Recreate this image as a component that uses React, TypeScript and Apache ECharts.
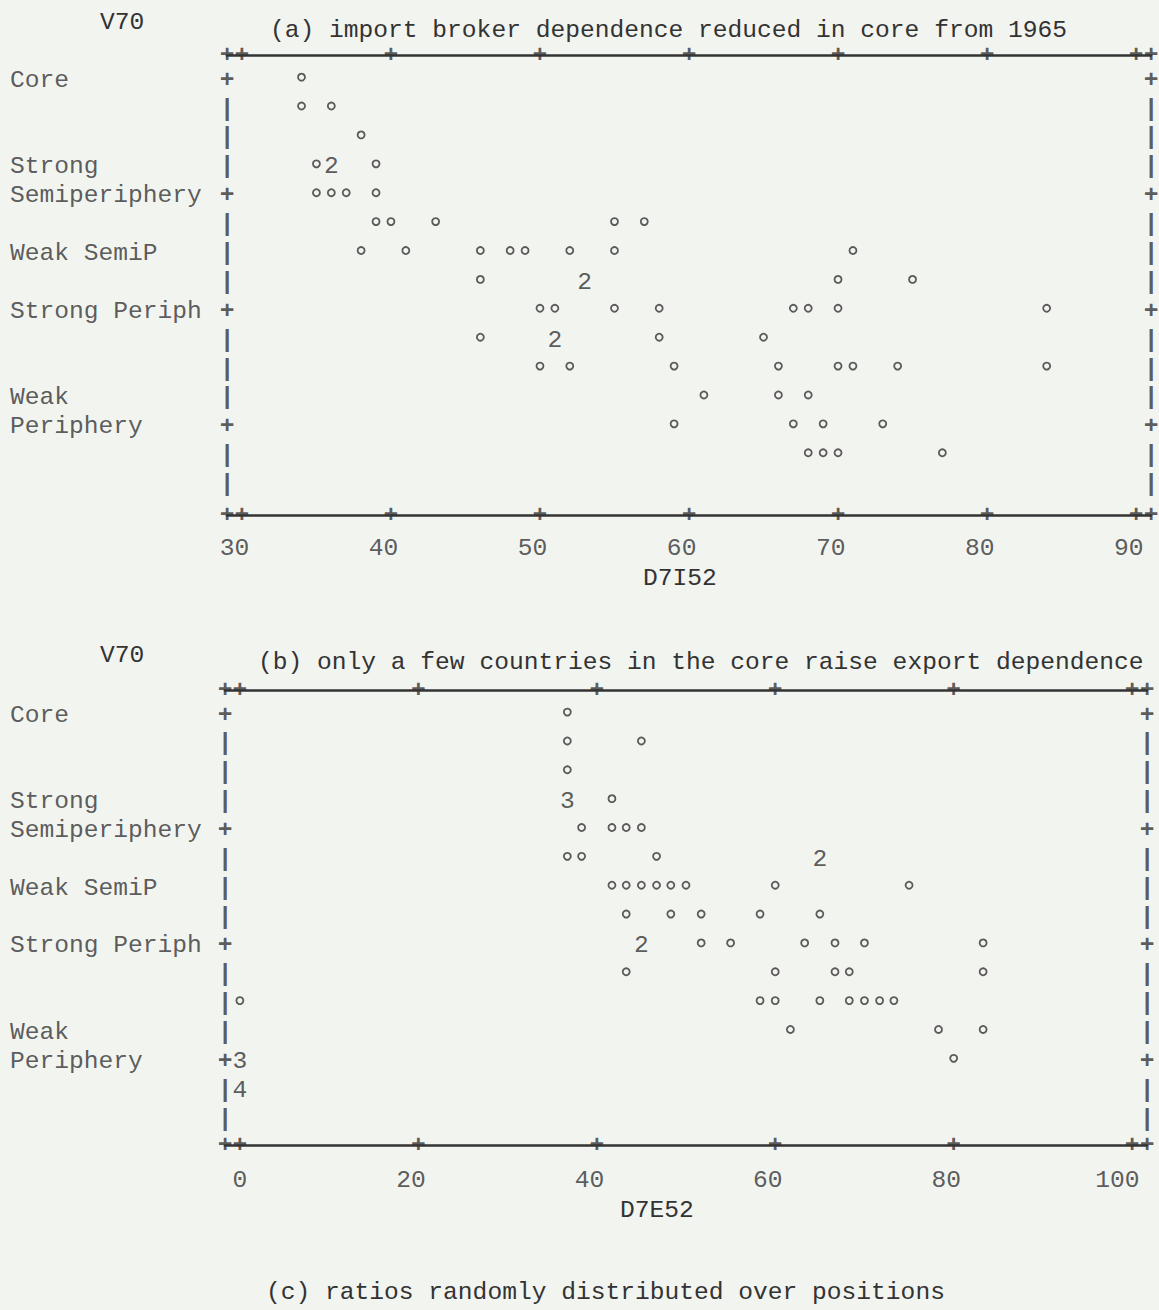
import React, { useEffect, useRef } from "react";
import * as echarts from "echarts";

const FONT = "'Liberation Mono', 'DejaVu Sans Mono', monospace";
const FS = 24.6;
const INK = "#333333";
const PAPER = "#f2f4f0";

// ---------- shared row structure (printer rows of V70) ----------
const frameRows = [0, 1, 2, 3, 4, 5, 6, 7, 8, 9, 10, 11, 12, 13, 14];
const tickRows = [0, 4, 8, 12];
const rowLabels: [number, string][] = [
  [0, "Core"],
  [3, "Strong"],
  [4, "Semiperiphery"],
  [6, "Weak SemiP"],
  [8, "Strong Periph"],
  [11, "Weak"],
  [12, "Periphery"],
];

// ---------- panel (a) ----------
const aTitle = "(a) import broker dependence reduced in core from 1965";
const aYName = "V70";
const aXName = "D7I52";
const aXTicks = [30, 40, 50, 60, 70, 80, 90];
const aXRange = [29, 91];
const aRowRange = [-0.87, 15.05];
// [D7I52, V70 row, number of cases]
const aPoints: [number, number, number][] = [
  [34, 0, 1],
  [34, 1, 1], [36, 1, 1],
  [38, 2, 1],
  [35, 3, 1], [36, 3, 2], [39, 3, 1],
  [35, 4, 1], [36, 4, 1], [37, 4, 1], [39, 4, 1],
  [39, 5, 1], [40, 5, 1], [43, 5, 1], [55, 5, 1], [57, 5, 1],
  [38, 6, 1], [41, 6, 1], [46, 6, 1], [48, 6, 1], [49, 6, 1], [52, 6, 1], [55, 6, 1], [71, 6, 1],
  [46, 7, 1], [53, 7, 2], [70, 7, 1], [75, 7, 1],
  [50, 8, 1], [51, 8, 1], [55, 8, 1], [58, 8, 1], [67, 8, 1], [68, 8, 1], [70, 8, 1], [84, 8, 1],
  [46, 9, 1], [51, 9, 2], [58, 9, 1], [65, 9, 1],
  [50, 10, 1], [52, 10, 1], [59, 10, 1], [66, 10, 1], [70, 10, 1], [71, 10, 1], [74, 10, 1], [84, 10, 1],
  [61, 11, 1], [66, 11, 1], [68, 11, 1],
  [59, 12, 1], [67, 12, 1], [69, 12, 1], [73, 12, 1],
  [68, 13, 1], [69, 13, 1], [70, 13, 1], [77, 13, 1],
];

// ---------- panel (b) ----------
const bTitle = "(b) only a few countries in the core raise export dependence";
const bYName = "V70";
const bXName = "D7E52";
const bXTicks = [0, 20, 40, 60, 80, 100];
const bXRange = [-1.667, 101.667];
const bRowRange = [-0.87, 14.9];
// [D7E52, V70 row, number of cases]
const bPoints: [number, number, number][] = [
  [36.7, 0, 1],
  [36.7, 1, 1], [45.0, 1, 1],
  [36.7, 2, 1],
  [36.7, 3, 3], [41.7, 3, 1],
  [38.3, 4, 1], [41.7, 4, 1], [43.3, 4, 1], [45.0, 4, 1],
  [36.7, 5, 1], [38.3, 5, 1], [46.7, 5, 1], [65.0, 5, 2],
  [41.7, 6, 1], [43.3, 6, 1], [45.0, 6, 1], [46.7, 6, 1], [48.3, 6, 1], [50.0, 6, 1], [60.0, 6, 1], [75.0, 6, 1],
  [43.3, 7, 1], [48.3, 7, 1], [51.7, 7, 1], [58.3, 7, 1], [65.0, 7, 1],
  [45.0, 8, 2], [51.7, 8, 1], [55.0, 8, 1], [63.3, 8, 1], [66.7, 8, 1], [70.0, 8, 1], [83.3, 8, 1],
  [43.3, 9, 1], [60.0, 9, 1], [66.7, 9, 1], [68.3, 9, 1], [83.3, 9, 1],
  [0, 10, 1], [58.3, 10, 1], [60.0, 10, 1], [65.0, 10, 1], [68.3, 10, 1], [70.0, 10, 1], [71.7, 10, 1], [73.3, 10, 1],
  [61.7, 11, 1], [78.3, 11, 1], [83.3, 11, 1],
  [0, 12, 3], [80.0, 12, 1],
  [0, 13, 4],
];

const caption = "(c) ratios randomly distributed over positions";

const textStyle = { fontFamily: FONT, fontSize: FS, color: INK };
const hidden = { color: "rgba(0,0,0,0)" };

type PanelCfg = {
  points: [number, number, number][];
  ticks: number[];
  xRange: number[];
  rowRange: number[];
  grid: { left: number; top: number; width: number; height: number };
  tickLabelDy: number;
  rowLabelDx: number;
};

function panelSeries(p: PanelCfg, xi: number, yi: number) {
  const [fl, fr] = p.xRange;
  const [yTop, yBot] = p.rowRange;
  const frame: [number, number, string][] = [];
  frameRows.forEach((r) => {
    const ch = tickRows.includes(r) ? "+" : "|";
    frame.push([fl, r, ch]);
    frame.push([fr, r, ch]);
  });
  [fl, ...p.ticks, fr].forEach((v) => {
    frame.push([v, yTop, "+"]);
    frame.push([v, yBot, "+"]);
  });
  const common = {
    type: "scatter",
    xAxisIndex: xi,
    yAxisIndex: yi,
    clip: false,
    silent: true,
  };
  const labelOnly = {
    ...common,
    symbol: "circle",
    symbolSize: 1,
    itemStyle: hidden,
  };
  return [
    {
      ...common,
      name: "single case",
      symbol: "circle",
      symbolSize: 7,
      symbolOffset: [0, -3],
      itemStyle: { color: PAPER, borderColor: INK, borderWidth: 1.8 },
      data: p.points.filter((d) => d[2] === 1).map((d) => [d[0], d[1]]),
    },
    {
      ...labelOnly,
      name: "multiple cases",
      data: p.points.filter((d) => d[2] > 1),
      label: {
        show: true,
        position: "inside",
        formatter: (q: any) => String(q.value[2]),
        ...textStyle,
        verticalAlign: "middle",
      },
    },
    {
      ...labelOnly,
      name: "frame",
      data: frame,
      label: {
        show: true,
        position: "inside",
        formatter: (q: any) => q.value[2],
        ...textStyle,
        fontWeight: "bold",
        verticalAlign: "middle",
      },
    },
    {
      ...labelOnly,
      name: "row labels",
      data: rowLabels.map(([r, t]) => [fl, r, t]),
      label: {
        show: true,
        position: "inside",
        formatter: (q: any) => q.value[2],
        ...textStyle,
        align: "left",
        verticalAlign: "middle",
        offset: [p.rowLabelDx, 0],
      },
    },
    {
      ...labelOnly,
      name: "tick labels",
      data: p.ticks.map((t) => [t, yBot]),
      label: {
        show: true,
        position: "inside",
        formatter: (q: any) => String(q.value[0]),
        ...textStyle,
        align: "right",
        verticalAlign: "middle",
        offset: [7.4, p.tickLabelDy],
      },
    },
  ];
}

function buildOption() {
  const panels: PanelCfg[] = [
    {
      points: aPoints,
      ticks: aXTicks,
      xRange: aXRange,
      rowRange: aRowRange,
      grid: { left: 227, top: 55, width: 924, height: 460 },
      tickLabelDy: 33,
      rowLabelDx: -217,
    },
    {
      points: bPoints,
      ticks: bXTicks,
      xRange: bXRange,
      rowRange: bRowRange,
      grid: { left: 225, top: 690, width: 922, height: 455 },
      tickLabelDy: 35,
      rowLabelDx: -215,
    },
  ];
  const frameLine = { show: true, onZero: false, lineStyle: { color: INK, width: 2.6 } };
  const xAxis: any[] = [];
  const yAxis: any[] = [];
  panels.forEach((p, i) => {
    ["bottom", "top"].forEach((pos) => {
      xAxis.push({
        type: "value",
        gridIndex: i,
        position: pos,
        min: p.xRange[0],
        max: p.xRange[1],
        axisLine: frameLine,
        axisTick: { show: false },
        axisLabel: { show: false },
        splitLine: { show: false },
      });
    });
    yAxis.push({
      type: "value",
      gridIndex: i,
      inverse: true,
      min: p.rowRange[0],
      max: p.rowRange[1],
      show: false,
      splitLine: { show: false },
    });
  });
  const series = panels.flatMap((p, i) => panelSeries(p, i * 2, i));
  const txt = (text: string, x: number, y: number) => ({
    type: "text",
    x,
    y,
    silent: true,
    style: {
      text,
      fill: INK,
      fontFamily: FONT,
      fontSize: FS,
      align: "left",
      verticalAlign: "middle",
    },
  });
  return {
    animation: false,
    backgroundColor: PAPER,
    grid: panels.map((p) => ({ ...p.grid, containLabel: false })),
    xAxis,
    yAxis,
    series,
    graphic: [
      txt(aYName, 100, 22),
      txt(aTitle, 270, 30),
      txt(aXName, 643, 578),
      txt(bYName, 100, 655),
      txt(bTitle, 258, 662),
      txt(bXName, 620, 1210),
      txt(caption, 266, 1292),
    ],
  };
}

export default function App() {
  const ref = useRef<HTMLDivElement>(null);
  useEffect(() => {
    const chart = echarts.init(ref.current!, undefined, { renderer: "svg" });
    chart.setOption(buildOption() as any);
    return () => chart.dispose();
  }, []);
  return (
    <div
      ref={ref}
      style={{ position: "fixed", left: 0, top: 0, width: 1159, height: 1310 }}
    />
  );
}
